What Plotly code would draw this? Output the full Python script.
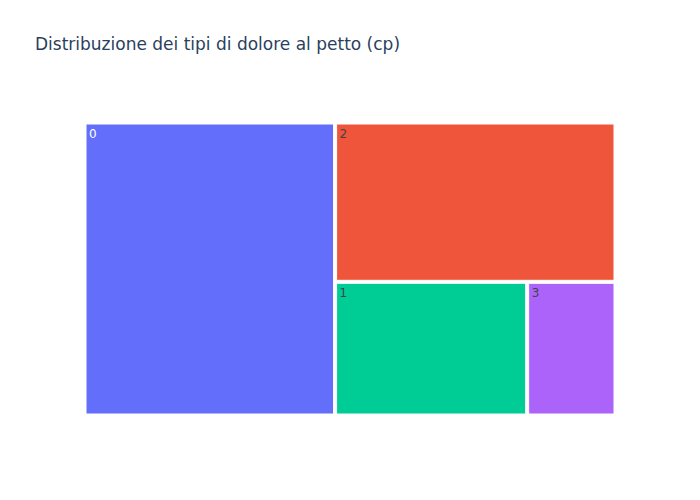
import plotly.graph_objects as go

labels = ["0", "2", "1", "3"]
values = [143, 87, 50, 23]
colors = ["#636efa", "#EF553B", "#00cc96", "#ab63fa"]
text_colors = ["#ffffff", "#444444", "#444444", "#444444"]

fig = go.Figure(go.Treemap(
    labels=labels,
    parents=[""] * len(labels),
    values=values,
    marker=dict(colors=colors),
    textfont=dict(color=text_colors),
))
fig.update_layout(
    title=dict(text="Distribuzione dei tipi di dolore al petto (cp)"),
    font=dict(family="Verdana, DejaVu Sans, sans-serif"),
    width=700, height=500,
    template="plotly",
)
fig.write_html("out.html")
